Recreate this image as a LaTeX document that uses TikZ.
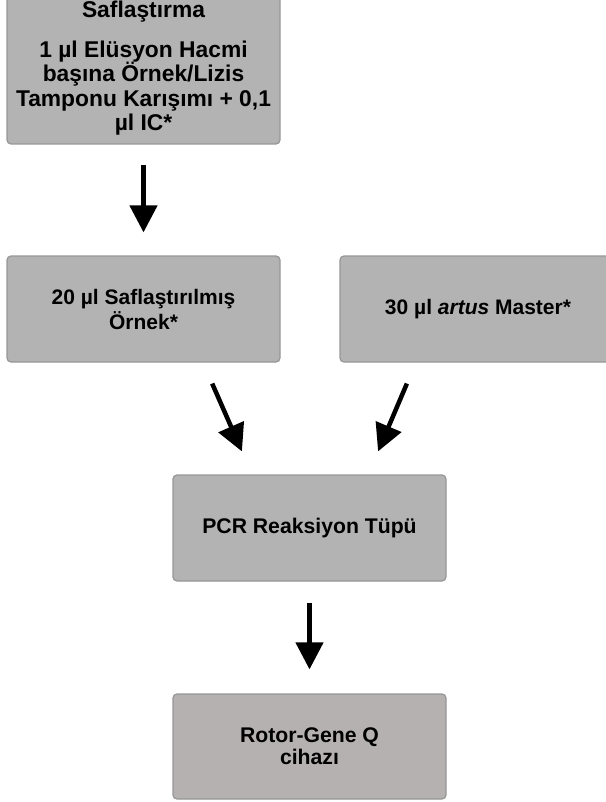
\documentclass[tikz,border=0pt]{standalone}
\usepackage{fontspec}
\setmainfont{Liberation Sans}
\usetikzlibrary{arrows.meta}
\definecolor{boxgray}{RGB}{179,179,179}
\definecolor{boxgrayw}{RGB}{181,177,177}
\definecolor{edgegray}{RGB}{150,150,150}
\tikzset{
  box/.style={draw=edgegray, line width=1.2pt, rounded corners=4pt, fill=boxgray,
    inner sep=0pt, align=center, font=\bfseries\fontsize{21}{25}\selectfont},
  arr/.style={line width=4.5pt, -{Triangle[length=27pt,width=27pt]}}
}
\begin{document}
\begin{tikzpicture}[x=1pt,y=-1pt]
\useasboundingbox (0,0) rectangle (605,802);
\node[box, minimum width=273pt, minimum height=151pt, font=\bfseries\fontsize{22.8}{24.5}\selectfont] (b1) at (143.5,68.5)
  {Saflaştırma\\[15pt]1 µl Elüsyon Hacmi\\başına Örnek/Lizis\\Tamponu Karışımı + 0,1\\µl IC*};
\node[box, minimum width=273pt, minimum height=106pt] (b2) at (143.5,309)
  {20 µl Saflaştırılmış\\Örnek*};
\node[box, minimum width=276pt, minimum height=106pt] (b3) at (478,309)
  {30 µl \textit{artus} Master*};
\node[box, minimum width=273pt, minimum height=106pt, font=\bfseries\fontsize{21.2}{23}\selectfont] (pcr) at (309.5,528)
  {PCR Reaksiyon Tüpü};
\node[box, fill=boxgrayw, minimum width=273pt, minimum height=105pt, font=\bfseries\fontsize{21.2}{22}\selectfont] (rot) at (309.5,746.5)
  {Rotor-Gene Q\\cihazı};
\draw[arr, shorten <=20pt, shorten >=23pt] (b1.south) -- (b2.north);
\draw[arr, shorten <=22.9pt, shorten >=25.1pt] ([xshift=59.5pt]b2.south) -- ([xshift=-57.5pt]pcr.north);
\draw[arr, shorten <=22.8pt, shorten >=25pt] ([xshift=-62.2pt]b3.south) -- ([xshift=58.8pt]pcr.north);
\draw[arr, shorten <=21pt, shorten >=24pt] (pcr.south) -- (rot.north);
\end{tikzpicture}
\end{document}
